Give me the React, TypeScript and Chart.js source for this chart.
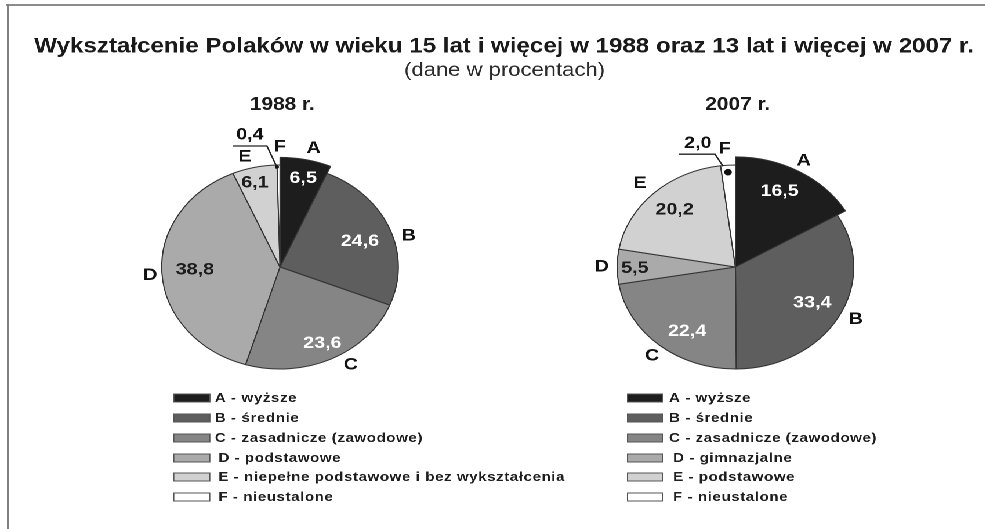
import React, { useEffect, useRef } from "react";
import { Chart, registerables } from "chart.js";
Chart.register(...registerables);

// ---- data ----
const mainTitle = "Wykształcenie Polaków w wieku 15 lat i więcej w 1988 oraz 13 lat i więcej w 2007 r.";
const subTitle = "(dane w procentach)";
const letters = ["A", "B", "C", "D", "E", "F"];
const years = ["1988 r.", "2007 r."];
const values1988 = [6.5, 24.6, 23.6, 38.8, 6.1, 0.4];
const values2007 = [16.5, 33.4, 22.4, 5.5, 20.2, 2.0];
const legend1988 = [
  "A - wyższe",
  "B - średnie",
  "C - zasadnicze (zawodowe)",
  "D - podstawowe",
  "E - niepełne podstawowe i bez wykształcenia",
  "F - nieustalone",
];
const legend2007 = [
  "A - wyższe",
  "B - średnie",
  "C - zasadnicze (zawodowe)",
  "D - gimnazjalne",
  "E - podstawowe",
  "F - nieustalone",
];

// ---- style / layout ----
const STRETCH = 1.16;
const LW = Math.round(985 / STRETCH);
const H = 529;
const FONT = "'Liberation Sans', Arial, Helvetica, sans-serif";
const sliceColors = ["#1d1d1d", "#5e5e5e", "#858585", "#aaaaaa", "#d1d1d1", "#ffffff"];
const valueTextColors = ["#ffffff", "#ffffff", "#ffffff", "#1c1c1c", "#1c1c1c", "#1c1c1c"];

type PieCfg = {
  header: boolean;
  year: string;
  cx: number;
  cy: number;
  r: number;
  bigA: number;
  values: number[];
  legend: string[];
  valR: number[];
  valDA: number[];
  letR: number[];
  letDA: number[];
  leaderEnd: [number, number];
  leaderKnee: [number, number];
  leaderStartDx: number;
  leaderText: [number, number];
  dot: [number, number];
  dotR: number;
  boxX: number;
  boxW: number;
  textX: number[];
  rowsY: number[];
};

const cfg1988: PieCfg = {
  header: true,
  year: years[0],
  cx: 241.4,
  cy: 267,
  r: 102,
  bigA: 1.075,
  values: values1988,
  legend: legend1988,
  valR: [0.89, 0.72, 0.83, 0.72, 0.85],
  valDA: [1, 2, 0, 1, -2],
  letR: [1.2, 1.13, 1.13, 1.1, 1.12, 1.18],
  letDA: [2, 6.6, -6.4, -1, -3, 0.7],
  leaderEnd: [-1.4, 2],
  leaderKnee: [-10, -19],
  leaderStartDx: -39.3,
  leaderText: [-24.7, -30],
  dot: [-1.4, 2],
  dotR: 1.8,
  boxX: 149.3,
  boxW: 32,
  textX: [185.3, 185.3, 185.3, 188.2, 188.2, 188.2],
  rowsY: [398, 418, 438, 458, 477, 497],
};

const cfg2007: PieCfg = {
  header: false,
  year: years[1],
  cx: 634,
  cy: 267,
  r: 102,
  bigA: 1.08,
  values: values2007,
  legend: legend2007,
  valR: [0.83, 0.74, 0.75, 0.85, 0.76],
  valDA: [-3, -1, -7, -1, 1],
  letR: [1.19, 1.14, 1.12, 1.13, 1.15, 1.16],
  letDA: [-0.7, -2.7, -1, 0, -1, -1],
  leaderEnd: [-4.3, 1],
  leaderKnee: [-11.2, -11],
  leaderStartDx: -42.3,
  leaderText: [-26, -22],
  dot: [0, 7],
  dotR: 3.3,
  boxX: 540.5,
  boxW: 31,
  textX: [576.7, 576.7, 576.7, 580.2, 580.2, 580.2],
  rowsY: [398, 418, 438, 458, 477, 497],
};

const fmt = (v: number) => v.toFixed(1).replace(".", ",");
const toRad = (d: number) => (d * Math.PI) / 180;

const piePlugin = {
  id: "piePlugin",
  afterDatasetsUpdate(chart: any, _args: any, opts: any) {
    const c: PieCfg = opts.cfg;
    const meta = chart.getDatasetMeta(0);
    const el: any = meta.data[0];
    if (el) el.outerRadius = el.outerRadius * c.bigA;
  },
  afterDraw(chart: any, _args: any, opts: any) {
    const c: PieCfg = opts.cfg;
    const ctx: CanvasRenderingContext2D = chart.ctx;
    const meta = chart.getDatasetMeta(0);
    const arcs: any[] = meta.data;
    const base = arcs[1].outerRadius;
    const cx = arcs[0].x;
    const cy = arcs[0].y;
    ctx.save();
    ctx.textAlign = "center";
    ctx.textBaseline = "middle";

    if (c.header) {
      ctx.fillStyle = "#1a1a1a";
      ctx.font = `bold 20.8px ${FONT}`;
      ctx.fillText(mainTitle, 434.5, 47);
      ctx.font = `19px ${FONT}`;
      ctx.fillStyle = "#2a2a2a";
      ctx.fillText(subTitle, 435, 71);
    }
    // year
    ctx.fillStyle = "#1a1a1a";
    ctx.font = `bold 18px ${FONT}`;
    ctx.fillText(c.year, cx + 2, 105);

    // value labels
    ctx.font = `bold 17px ${FONT}`;
    arcs.forEach((a, i) => {
      if (i >= c.valR.length) return;
      const mid = (a.startAngle + a.endAngle) / 2 + toRad(c.valDA[i]);
      const rr = base * c.valR[i];
      ctx.fillStyle = valueTextColors[i];
      ctx.fillText(fmt(c.values[i]), cx + Math.cos(mid) * rr, cy + Math.sin(mid) * rr);
    });

    // letters
    ctx.font = `bold 17px ${FONT}`;
    ctx.fillStyle = "#111";
    arcs.forEach((a, i) => {
      const mid = (a.startAngle + a.endAngle) / 2 + toRad(c.letDA[i]);
      const rr = base * c.letR[i];
      ctx.fillText(letters[i], cx + Math.cos(mid) * rr, cy + Math.sin(mid) * rr);
    });

    // leader for the last (tiny) slice
    const last = arcs[arcs.length - 1];
    const lm = (last.startAngle + last.endAngle) / 2;
    const ex = cx + Math.cos(lm) * base;
    const ey = cy + Math.sin(lm) * base;
    ctx.strokeStyle = "#222";
    ctx.lineWidth = 1.3;
    ctx.beginPath();
    ctx.moveTo(ex + c.leaderStartDx, ey + c.leaderKnee[1]);
    ctx.lineTo(ex + c.leaderKnee[0], ey + c.leaderKnee[1]);
    ctx.lineTo(ex + c.leaderEnd[0], ey + c.leaderEnd[1]);
    ctx.stroke();
    ctx.fillStyle = "#111";
    ctx.beginPath();
    ctx.arc(ex + c.dot[0], ey + c.dot[1], c.dotR, 0, Math.PI * 2);
    ctx.fill();
    ctx.font = `bold 17px ${FONT}`;
    ctx.fillText(fmt(c.values[c.values.length - 1]), ex + c.leaderText[0], ey + c.leaderText[1]);

    // legend
    ctx.textAlign = "left";
    ctx.font = `bold 13px ${FONT}`;
    (ctx as any).letterSpacing = "0.5px";
    c.legend.forEach((t, i) => {
      const y = c.rowsY[i];
      ctx.fillStyle = sliceColors[i];
      ctx.fillRect(c.boxX, y - 4.5, c.boxW, 9);
      ctx.strokeStyle = "#555";
      ctx.lineWidth = 1;
      ctx.strokeRect(c.boxX + 0.5, y - 4, c.boxW - 1, 8);
      ctx.fillStyle = "#1e1e1e";
      ctx.fillText(t, c.textX[i], y + 0.5);
    });
    ctx.restore();
  },
};

function PieCanvas({ cfg }: { cfg: PieCfg }) {
  const ref = useRef<HTMLCanvasElement | null>(null);
  useEffect(() => {
    if (!ref.current) return;
    const half = 120;
    const chart = new Chart(ref.current, {
      type: "pie",
      data: {
        labels: letters,
        datasets: [
          {
            data: cfg.values,
            backgroundColor: sliceColors,
            borderColor: "#333333",
            borderWidth: 1,
          },
        ],
      },
      options: {
        responsive: false,
        animation: false,
        devicePixelRatio: 2,
        events: [],
        radius: cfg.r,
        layout: {
          padding: {
            left: cfg.cx - half,
            right: LW - cfg.cx - half,
            top: cfg.cy - half,
            bottom: H - cfg.cy - half,
          },
        },
        plugins: {
          legend: { display: false },
          tooltip: { enabled: false },
          title: { display: false },
          piePlugin: { cfg },
        } as any,
      },
      plugins: [piePlugin as any],
    });
    return () => chart.destroy();
  }, [cfg]);
  return (
    <canvas
      ref={ref}
      width={LW}
      height={H}
      style={{ position: "absolute", left: 0, top: 0, width: LW, height: H }}
    />
  );
}

export default function App() {
  return (
    <div style={{ position: "absolute", left: 0, top: 0, width: 985, height: 529, background: "#fff", overflow: "hidden" }}>
      <div style={{ position: "absolute", left: 6, top: 4, width: 979, height: 2, background: "#8c8c8c" }} />
      <div style={{ position: "absolute", left: 7, top: 4, width: 2, height: 525, background: "#808080" }} />
      <div
        style={{
          position: "absolute",
          left: 0,
          top: 0,
          width: LW,
          height: H,
          transform: `scaleX(${STRETCH})`,
          transformOrigin: "0 0",
        }}
      >
        <PieCanvas cfg={cfg1988} />
        <PieCanvas cfg={cfg2007} />
      </div>
    </div>
  );
}
